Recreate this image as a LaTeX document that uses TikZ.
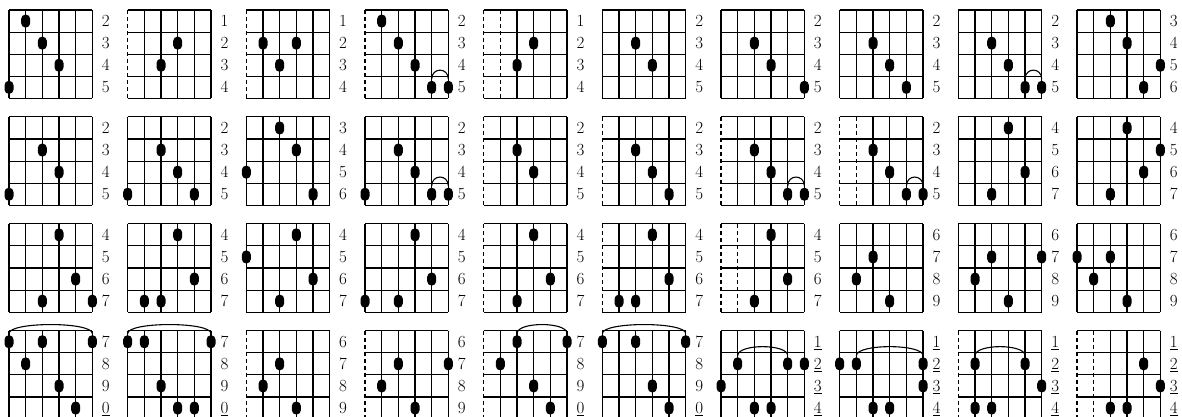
\documentclass[tikz,border=0pt]{standalone}
\usetikzlibrary{calc}
\newcommand\fbd[5]{% col, row, nmute, labels, dots
  \pgfmathsetmacro\xo{9+#1*118.67}%
  \pgfmathsetmacro\yo{-(10+#2*106.9)}%
  \begin{scope}[shift={(\xo,\yo)}]
    \foreach \k in {0,...,4} \draw[fret] (0,{-\k*22.1}) -- (83.35,{-\k*22.1});
    \foreach \s in {1,...,6} {%
      \ifnum\s>#3\relax
        \draw[strg] ({(\s-1)*16.67},0) -- ({(\s-1)*16.67},-88.4);
      \else
        \draw[mute] ({(\s-1)*16.67},0) -- ({(\s-1)*16.67},-88.4);
      \fi}
    \foreach \l [count=\k] in {#4}
      \node[lab] (l-#1-#2-\k) at (96.8,{-(\k-0.5)*22.1-5.6}) {\l};
    \foreach \s/\f in {#5}
      \node[dot] (d-#1-#2-\s-\f) at ({(\s-1)*16.67},{-(\f-0.5)*22.1}) {};
  \end{scope}}
\newcommand\barre[5]{% col,row,a,b,fret
  \draw[barreline] ([yshift=1.5pt]d-#1-#2-#3-#5.north) .. controls +(0,12) and +(0,12) .. ([yshift=1.5pt]d-#1-#2-#4-#5.north);}
\begin{document}
\begin{tikzpicture}[x=1pt,y=1pt,
  dot/.style={rectangle,fill=black,draw=none,rounded corners=4.3pt,minimum width=9pt,minimum height=13pt,inner sep=0pt},
  strg/.style={line width=1.5pt},
  fret/.style={line width=1.1pt},
  mute/.style={line width=1.5pt,dash pattern=on 4pt off 3pt},
  lab/.style={font=\fontsize{17}{20}\selectfont,inner sep=0pt,anchor=base},
  barreline/.style={line width=1.1pt}]
\useasboundingbox (0,0) rectangle (1182,-417);
% row 0
\fbd{0}{0}{0}{2,3,4,5}{2/1,3/2,4/3,1/4}
\fbd{1}{0}{1}{1,2,3,4}{4/2,3/3}
\fbd{2}{0}{1}{1,2,3,4}{2/2,4/2,3/3}
\fbd{3}{0}{1}{2,3,4,5}{2/1,3/2,4/3,5/4,6/4}\barre{3}{0}{5}{6}{4}
\fbd{4}{0}{2}{1,2,3,4}{4/2,3/3}
\fbd{5}{0}{0}{2,3,4,5}{3/2,4/3}
\fbd{6}{0}{0}{2,3,4,5}{3/2,4/3,6/4}
\fbd{7}{0}{0}{2,3,4,5}{3/2,4/3,5/4}
\fbd{8}{0}{0}{2,3,4,5}{3/2,4/3,5/4,6/4}\barre{8}{0}{5}{6}{4}
\fbd{9}{0}{0}{3,4,5,6}{3/1,4/2,6/3,5/4}
% row 1
\fbd{0}{1}{0}{2,3,4,5}{3/2,4/3,1/4}
\fbd{1}{1}{0}{2,3,4,5}{3/2,4/3,1/4,5/4}
\fbd{2}{1}{0}{3,4,5,6}{3/1,4/2,1/3,5/4}
\fbd{3}{1}{0}{2,3,4,5}{3/2,4/3,1/4,5/4,6/4}\barre{3}{1}{5}{6}{4}
\fbd{4}{1}{1}{2,3,4,5}{3/2,4/3}
\fbd{5}{1}{1}{2,3,4,5}{3/2,4/3,5/4}
\fbd{6}{1}{1}{2,3,4,5}{3/2,4/3,5/4,6/4}\barre{6}{1}{5}{6}{4}
\fbd{7}{1}{2}{2,3,4,5}{3/2,4/3,5/4,6/4}\barre{7}{1}{5}{6}{4}
\fbd{8}{1}{0}{4,5,6,7}{4/1,5/3,3/4}
\fbd{9}{1}{0}{4,5,6,7}{4/1,6/2,5/3,3/4}
% row 2
\fbd{0}{2}{0}{4,5,6,7}{4/1,5/3,3/4,6/4}
\fbd{1}{2}{0}{4,5,6,7}{4/1,5/3,2/4,3/4}
\fbd{2}{2}{0}{4,5,6,7}{4/1,1/2,5/3,3/4}
\fbd{3}{2}{0}{4,5,6,7}{4/1,5/3,1/4,3/4}
\fbd{4}{2}{1}{4,5,6,7}{4/1,5/3,3/4}
\fbd{5}{2}{1}{4,5,6,7}{4/1,5/3,2/4,3/4}
\fbd{6}{2}{2}{4,5,6,7}{4/1,5/3,3/4}
\fbd{7}{2}{0}{6,7,8,9}{3/2,2/3,4/4}
\fbd{8}{2}{0}{6,7,8,9}{3/2,6/2,2/3,4/4}
\fbd{9}{2}{0}{6,7,8,9}{1/2,3/2,2/3,4/4}
% row 3
\fbd{0}{3}{0}{7,8,9,\underline{0}}{1/1,3/1,6/1,2/2,4/3,5/4}\barre{0}{3}{1}{6}{1}
\fbd{1}{3}{0}{7,8,9,\underline{0}}{1/1,2/1,6/1,3/3,4/4,5/4}\barre{1}{3}{1}{6}{1}
\fbd{2}{3}{1}{6,7,8,9}{3/2,2/3,4/4}
\fbd{3}{3}{1}{6,7,8,9}{3/2,6/2,2/3,4/4}
\fbd{4}{3}{1}{7,8,9,\underline{0}}{3/1,6/1,2/2,4/3,5/4}\barre{4}{3}{3}{6}{1}
\fbd{5}{3}{0}{7,8,9,\underline{0}}{1/1,6/1,3/1,4/3,5/4}\barre{5}{3}{1}{6}{1}
\fbd{6}{3}{0}{\underline{1},\underline{2},\underline{3},\underline{4}}{2/2,5/2,6/2,1/3,3/4,4/4}\barre{6}{3}{2}{5}{2}
\fbd{7}{3}{0}{\underline{1},\underline{2},\underline{3},\underline{4}}{1/2,2/2,6/2,6/3,3/4,4/4}\barre{7}{3}{2}{6}{2}
\fbd{8}{3}{1}{\underline{1},\underline{2},\underline{3},\underline{4}}{2/2,5/2,6/3,2/4,3/4}\barre{8}{3}{2}{5}{2}
\fbd{9}{3}{2}{\underline{1},\underline{2},\underline{3},\underline{4}}{5/2,6/3,3/4,4/4}
\end{tikzpicture}
\end{document}
